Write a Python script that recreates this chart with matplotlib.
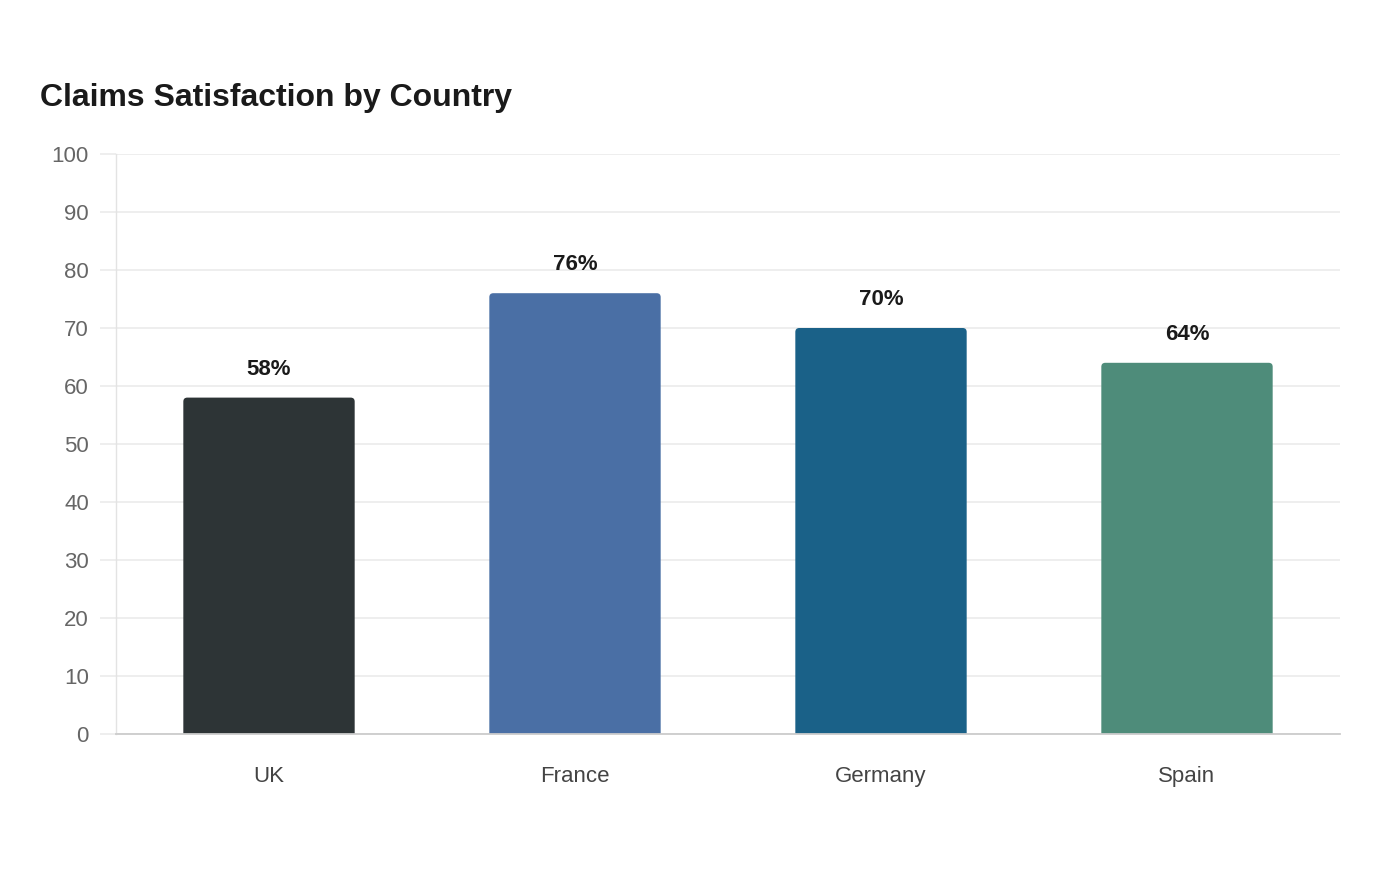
import matplotlib
matplotlib.use("Agg")
import matplotlib.pyplot as plt
from matplotlib.path import Path
from matplotlib.patches import PathPatch

plt.rcParams['font.family'] = ['Liberation Sans', 'DejaVu Sans']

countries = ["UK", "France", "Germany", "Spain"]
satisfaction = [58, 76, 70, 64]
colors = ["#2d3436", "#4a6fa5", "#1a6188", "#4e8c7a"]
yticks = [0, 10, 20, 30, 40, 50, 60, 70, 80, 90, 100]

fig = plt.figure(figsize=(14, 8.8), dpi=100)
ax = fig.add_axes([116/1400, 146/880, 1224/1400, 580/880])

x = list(range(len(countries)))
width = 0.56
bars = ax.bar(x, satisfaction, width=width, color=colors, zorder=2)

ax.set_xlim(-0.5, len(countries) - 0.5)
ax.set_ylim(0, 100)

# rounded top corners
rx = 4 / 306.0
ry = 4 / 5.8
for b, c in zip(bars, colors):
    x0, y0 = b.get_x(), b.get_y()
    w, h = b.get_width(), b.get_height()
    x1, y1 = x0 + w, y0 + h
    verts = [(x0, y0), (x0, y1 - ry), (x0, y1), (x0 + rx, y1),
             (x1 - rx, y1), (x1, y1), (x1, y1 - ry), (x1, y0), (x0, y0)]
    codes = [Path.MOVETO, Path.LINETO, Path.CURVE3, Path.CURVE3,
             Path.LINETO, Path.CURVE3, Path.CURVE3, Path.LINETO, Path.CLOSEPOLY]
    ax.add_patch(PathPatch(Path(verts, codes), facecolor=c, edgecolor='none', zorder=2))
    b.set_visible(False)

for xi, v in zip(x, satisfaction):
    ax.annotate(f"{v}%", (xi, v), xytext=(0, 13), textcoords='offset points',
                ha='center', va='bottom', fontsize=16, fontweight='bold', color='#1a1a1a')

ax.set_yticks(yticks)
ax.set_xticks(x)
ax.set_xticklabels(countries)
ax.yaxis.grid(True, color='#ebebeb', linewidth=1.2, zorder=0)
ax.set_axisbelow(True)
ax.tick_params(axis='y', length=11.5, width=1.2, color='#ebebeb', labelsize=16,
               labelcolor='#666666', pad=8)
ax.tick_params(axis='x', length=0, labelsize=16, labelcolor='#444444', pad=23)

for s in ['top', 'right']:
    ax.spines[s].set_visible(False)
ax.spines['left'].set_color('#e3e3e3')
ax.spines['left'].set_linewidth(1)
ax.spines['bottom'].set_color('#cccccc')
ax.spines['bottom'].set_linewidth(1.3)

fig.text(40/1400, 1 - 98/880, "Claims Satisfaction by Country", fontsize=23,
         fontweight='bold', color='#1a1a1a', ha='left', va='center')

fig.savefig("out.png", dpi=100, facecolor='white')
